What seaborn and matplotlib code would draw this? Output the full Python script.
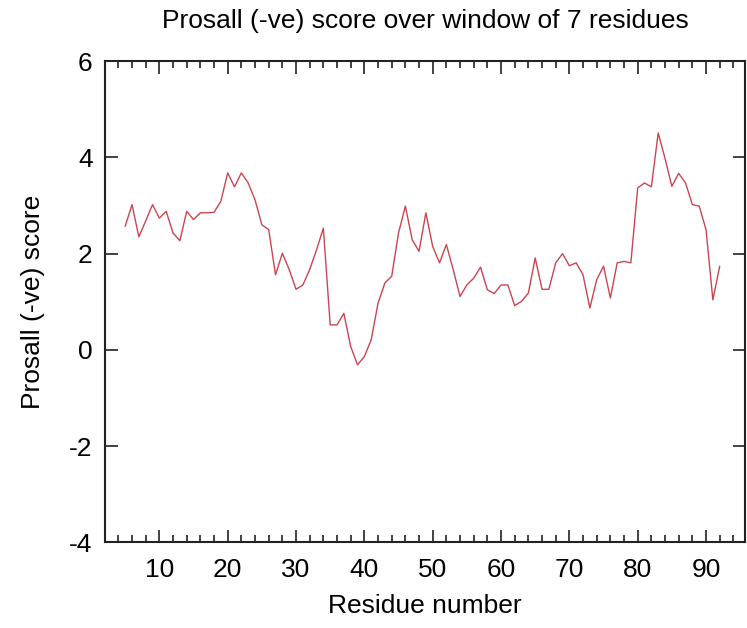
import matplotlib
matplotlib.use("Agg")
import matplotlib.pyplot as plt
import pandas as pd
import seaborn as sns
from matplotlib.ticker import MultipleLocator

# residue numbers (centre of the 7-residue window)
residues = list(range(5, 93))

# Prosall (-ve) score, residues 5..92
scores = [
    2.57, 3.02, 2.35, 2.68, 3.02, 2.74, 2.88, 2.43, 2.27, 2.88,
    2.71, 2.85, 2.85, 2.86, 3.09, 3.68, 3.39, 3.68, 3.47, 3.12,
    2.60, 2.50, 1.56, 2.01, 1.67, 1.26, 1.35, 1.67, 2.08, 2.53,
    0.52, 0.52, 0.76, 0.07, -0.31, -0.14, 0.21, 0.97, 1.39, 1.53,
    2.43, 2.99, 2.29, 2.05, 2.85, 2.15, 1.81, 2.19, 1.67, 1.11,
    1.35, 1.49, 1.72, 1.25, 1.17, 1.35, 1.35, 0.92, 1.01, 1.18,
    1.91, 1.26, 1.26, 1.81, 2.00, 1.75, 1.81, 1.56, 0.87, 1.46,
    1.74, 1.08, 1.81, 1.84, 1.81, 3.37, 3.47, 3.39, 4.51, 3.98,
    3.40, 3.67, 3.47, 3.02, 2.99, 2.50, 1.04, 1.74,
]

x_ticks = [10, 20, 30, 40, 50, 60, 70, 80, 90]
y_ticks = [-4, -2, 0, 2, 4, 6]

df = pd.DataFrame({'residue': residues, 'score': scores})

sns.set_style('ticks')
plt.rcParams['font.family'] = ['Liberation Sans', 'DejaVu Sans']
plt.rcParams['axes.unicode_minus'] = False  # gnuplot draws a plain hyphen

fig = plt.figure(figsize=(7.47, 6.28), dpi=100)
ax = fig.add_axes([0.1406, 0.1365, 0.8567, 0.7659])

sns.lineplot(data=df, x='residue', y='score', ax=ax, color='#cc4450', linewidth=1.0)

ax.set_xlim(2.05, 95.7)
ax.set_ylim(-4, 6)
ax.set_xticks(x_ticks)
ax.set_yticks(y_ticks)
ax.xaxis.set_minor_locator(MultipleLocator(2))

# gnuplot-like frame: ticks inside, mirrored on all sides
ax.tick_params(which='both', direction='in', top=True, right=True, width=1.2, colors='#222222',
               labelcolor='black', labelsize=19)
ax.tick_params(which='major', length=9)
ax.tick_params(which='minor', length=5)
ax.tick_params(axis='x', pad=11)
ax.tick_params(axis='y', pad=9)
for s in ax.spines.values():
    s.set_linewidth(1.5)
    s.set_color('#222222')

ax.set_title('Prosall (-ve) score over window of 7 residues', fontsize=19, pad=24, color='black')
ax.set_xlabel('Residue number', fontsize=19, labelpad=9, color='black')
ax.set_ylabel('Prosall (-ve) score', fontsize=19, labelpad=17, color='black')

fig.savefig('out.png', dpi=100)
